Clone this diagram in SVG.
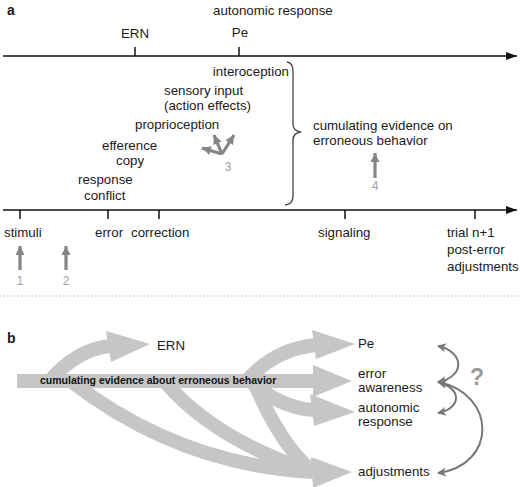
<svg xmlns="http://www.w3.org/2000/svg" width="520" height="487" viewBox="0 0 520 487">
<style>
text{font-family:"Liberation Sans",Arial,sans-serif;font-size:13.3px;fill:#1a1a1a}
.lbl{font-weight:bold;font-size:14px}
.num{font-size:12px;fill:#a0a0a0}
.axis{stroke:#111;stroke-width:1.5;fill:none}
.tick{stroke:#111;stroke-width:1.5}
.garr{stroke:#858585;stroke-width:3.2;fill:none}
.band{stroke:#c6c6c6;stroke-width:14;fill:none}
.head{fill:#c6c6c6}
.arc{stroke:#777;stroke-width:2;fill:none}
</style>
<defs>
<marker id="axhead" markerUnits="userSpaceOnUse" markerWidth="12" markerHeight="10" refX="11" refY="5" orient="auto">
<path d="M0,1 L11,5 L0,9 z" fill="#111"/>
</marker>
<marker id="ghead" markerUnits="userSpaceOnUse" markerWidth="10" markerHeight="10" refX="9" refY="5" orient="auto">
<path d="M0,0.5 L9,5 L0,9.5 z" fill="#858585"/>
</marker>
<marker id="ahead" markerUnits="userSpaceOnUse" markerWidth="10" markerHeight="10" refX="8" refY="5" orient="auto-start-reverse">
<path d="M0,0.5 L9,5 L0,9.5 L2.5,5 z" fill="#777"/>
</marker>
</defs>

<!-- Panel a -->
<text class="lbl" x="7" y="15">a</text>
<g id="axis-top">
<line class="axis" x1="3" y1="56" x2="517" y2="56" marker-end="url(#axhead)"/>
<line class="tick" x1="135" y1="47" x2="135" y2="56"/>
<line class="tick" x1="239" y1="47" x2="239" y2="56"/>
</g>
<g id="top-labels">
<text x="213" y="15">autonomic response</text>
<text x="135" y="38" text-anchor="middle">ERN</text>
<text x="240" y="37" text-anchor="middle">Pe</text>
</g>
<g id="sources">
<text x="289" y="76" text-anchor="end">interoception</text>
<text x="164" y="95">sensory input</text>
<text x="164" y="110">(action effects)</text>
<text x="135" y="129">proprioception</text>
<text x="102" y="150">efference</text>
<text x="116" y="165">copy</text>
<text x="78" y="184">response</text>
<text x="84" y="200">conflict</text>
</g>
<g id="brace">
<path d="M287,62 Q293,63 293,71 L293,124 Q293,131 301,132 Q293,133 293,140 L293,196 Q293,204 285,205" fill="none" stroke="#444" stroke-width="1.3"/>
</g>
<g id="evidence">
<text x="313" y="130">cumulating evidence on</text>
<text x="313" y="145">erroneous behavior</text>
</g>
<g id="axis-bottom">
<line class="axis" x1="3" y1="210" x2="517" y2="210" marker-end="url(#axhead)"/>
<line class="tick" x1="20" y1="210" x2="20" y2="219"/>
<line class="tick" x1="108" y1="210" x2="108" y2="219"/>
<line class="tick" x1="159" y1="210" x2="159" y2="219"/>
<line class="tick" x1="345" y1="210" x2="345" y2="219"/>
<line class="tick" x1="475" y1="210" x2="475" y2="219"/>
</g>
<g id="bottom-labels">
<text x="4" y="237">stimuli</text>
<text x="95" y="237">error</text>
<text x="131" y="237">correction</text>
<text x="318" y="237">signaling</text>
<text x="447" y="237">trial n+1</text>
<text x="447" y="254">post-error</text>
<text x="447" y="271">adjustments</text>
</g>
<g id="markers-a">
<line class="garr" x1="20" y1="270" x2="20" y2="246" marker-end="url(#ghead)"/>
<text class="num" x="20" y="285" text-anchor="middle">1</text>
<line class="garr" x1="66" y1="270" x2="66" y2="246" marker-end="url(#ghead)"/>
<text class="num" x="66" y="285" text-anchor="middle">2</text>
<line class="garr" x1="222" y1="154" x2="202" y2="148" marker-end="url(#ghead)"/>
<line class="garr" x1="222" y1="154" x2="214" y2="135" marker-end="url(#ghead)"/>
<line class="garr" x1="222" y1="154" x2="234" y2="135" marker-end="url(#ghead)"/>
<text class="num" x="228" y="171" text-anchor="middle">3</text>
<line class="garr" x1="375" y1="178" x2="375" y2="153" marker-end="url(#ghead)"/>
<text class="num" x="375" y="190" text-anchor="middle">4</text>
</g>

<line x1="0" y1="296" x2="520" y2="296" stroke="#bbb" stroke-width="1" stroke-dasharray="1.5,2"/>

<!-- Panel b -->
<text class="lbl" x="7" y="343">b</text>
<g id="flows">
<path class="band" d="M48,383 Q75,350 110,346"/>
<polygon class="head" points="106,331 111,362 150,344"/>
<path class="band" d="M245,383 Q272,350 315,345"/>
<polygon class="head" points="312,330 316,359 355,344"/>
<rect x="17" y="374" width="297" height="14" fill="#c6c6c6"/>
<polygon class="head" points="313,365 313,397 352,381"/>
<path class="band" d="M250,381 Q280,408 314,410"/>
<polygon class="head" points="310,394 314,426 355,412"/>
<path class="band" d="M72,382 Q180,465 313,472"/>
<path class="band" d="M165,382 Q215,440 313,472"/>
<path class="band" d="M254,382 Q280,445 313,472"/>
<polygon class="head" points="311,457 313,488 352,472"/>
<text x="40" y="384" style="font-weight:bold;font-size:10.5px;fill:#111">cumulating evidence about erroneous behavior</text>
</g>
<g id="ERN-b"><text x="157" y="350">ERN</text></g>
<g id="Pe-b"><text x="358" y="348">Pe</text></g>
<g id="awareness-b"><text x="358" y="378">error</text><text x="358" y="392">awareness</text></g>
<g id="autonomic-b"><text x="358" y="412">autonomic</text><text x="358" y="426">response</text></g>
<g id="adjustments-b"><text x="358" y="476">adjustments</text></g>
<g id="connectors">
<path class="arc" d="M438,346 C465,352 465,377 438,382" marker-start="url(#ahead)" marker-end="url(#ahead)"/>
<path class="arc" d="M438,382 C462,388 462,408 438,413" marker-start="url(#ahead)" marker-end="url(#ahead)"/>
<path class="arc" d="M439,382 C497,395 497,465 438,473" marker-start="url(#ahead)" marker-end="url(#ahead)"/>
</g>
<text x="477" y="385" text-anchor="middle" style="font-weight:bold;font-size:23px;fill:#999">?</text>
</svg>
